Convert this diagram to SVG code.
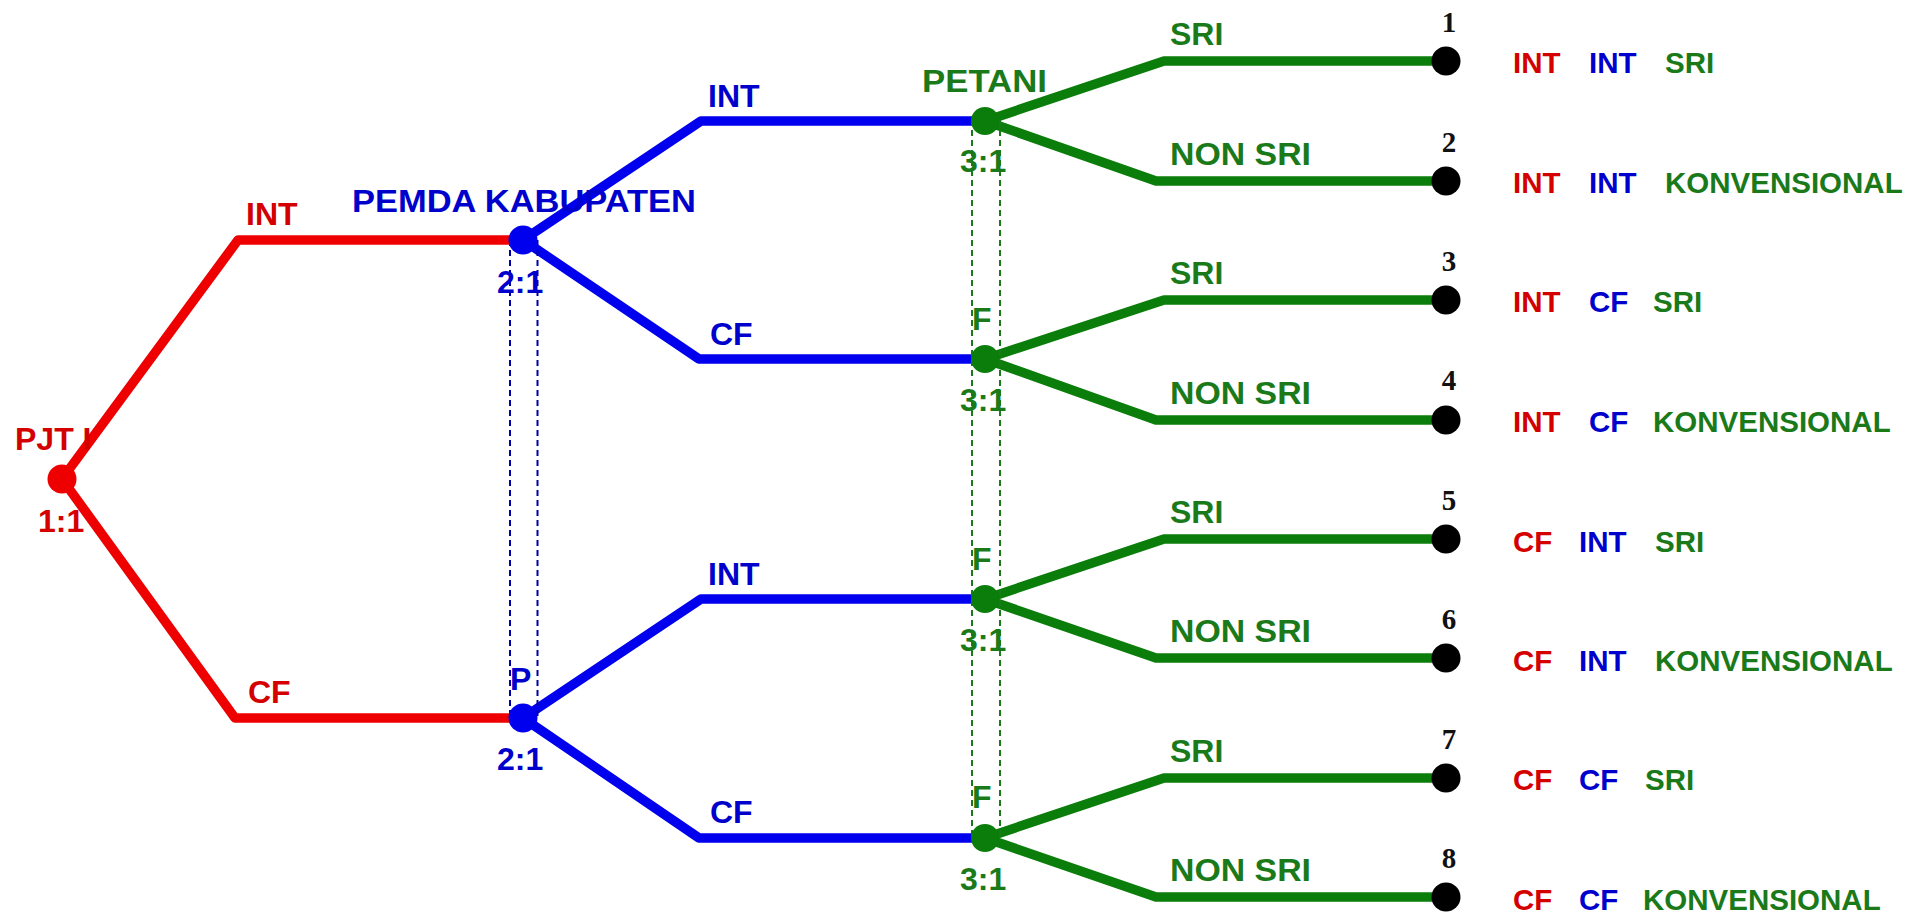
<svg xmlns="http://www.w3.org/2000/svg" width="1929" height="913" viewBox="0 0 1929 913">
<style>
text{font-family:"Liberation Sans",Arial,sans-serif;font-weight:bold;font-size:32px}
.r{fill:#d40000}.b{fill:#0000cc}.g{fill:#1a7a1a}
.lr{stroke:#ee0000}.lb{stroke:#0000ee}.lg{stroke:#0a7d0a}
.ln{fill:none;stroke-width:9.5;stroke-linejoin:round}
.dr{fill:none;stroke-width:2;stroke-dasharray:6 4}
.leg{font-size:29.5px}
.num{font-family:"Liberation Serif","Times New Roman",serif;font-weight:bold;font-size:29px;fill:#111;text-anchor:middle}
.nr{fill:#ee0000}.nb{fill:#0000ee}.ng{fill:#0a7d0a}.nk{fill:#000}
</style>
<rect width="1929" height="913" fill="#fff"/>
<g id="connectors">
  <path class="ln lr" d="M62 479 L238 240 L523 240 M62 479 L235 718 L523 718"/>
  <path class="ln lb" d="M523 240 L701 121 L985 121 M523 240 L699 359 L985 359 M523 718 L701 599 L985 599 M523 718 L699 838 L985 838"/>
  <path class="ln lg" d="M985 121 L1164 61 L1445 61 M985 121 L1156 181 L1445 181 M985 359 L1164 300 L1445 300 M985 359 L1156 420 L1445 420 M985 599 L1164 539 L1445 539 M985 599 L1156 658 L1445 658 M985 838 L1164 778 L1445 778 M985 838 L1156 897 L1445 897"/>
  <path class="dr" stroke="#0000aa" d="M510 240 V718 M537.5 240 V718"/>
  <path class="dr" stroke="#1a7a1a" d="M972 120 V838 M1000 120 V838"/>
</g>
<g id="node-pjt">
  <text class="r" x="15" y="450">PJT I</text>
  <text class="r" x="38" y="532">1:1</text>
  <circle class="nr" cx="62" cy="479" r="14.5"/>
</g>
<g id="edge-labels-red">
  <text class="r" x="246" y="225">INT</text>
  <text class="r" x="248" y="703">CF</text>
</g>
<g id="node-pemda-1">
  <text class="b" x="352" y="212" textLength="344" lengthAdjust="spacingAndGlyphs">PEMDA KABUPATEN</text>
  <text class="b" x="497" y="293">2:1</text>
  <circle class="nb" cx="523" cy="240" r="14.5"/>
</g>
<g id="node-pemda-2">
  <text class="b" x="510" y="690">P</text>
  <text class="b" x="497" y="770">2:1</text>
  <circle class="nb" cx="523" cy="718" r="14.5"/>
</g>
<g id="edge-labels-blue">
  <text class="b" x="708" y="107">INT</text>
  <text class="b" x="710" y="345">CF</text>
  <text class="b" x="708" y="585">INT</text>
  <text class="b" x="710" y="823">CF</text>
</g>
<g id="node-petani-1">
  <text class="g" x="922" y="92" textLength="125" lengthAdjust="spacingAndGlyphs">PETANI</text>
  <text class="g" x="960" y="172">3:1</text>
  <circle class="ng" cx="985" cy="121" r="14"/>
</g>
<g id="node-petani-2">
  <text class="g" x="972" y="330">F</text>
  <text class="g" x="960" y="411">3:1</text>
  <circle class="ng" cx="985" cy="359" r="14"/>
</g>
<g id="node-petani-3">
  <text class="g" x="972" y="570">F</text>
  <text class="g" x="960" y="651">3:1</text>
  <circle class="ng" cx="985" cy="599" r="14"/>
</g>
<g id="node-petani-4">
  <text class="g" x="972" y="808">F</text>
  <text class="g" x="960" y="890">3:1</text>
  <circle class="ng" cx="985" cy="838" r="14"/>
</g>
<g id="edge-labels-green">
  <text class="g" x="1170" y="45">SRI</text>
  <text class="g" x="1170" y="165" textLength="141" lengthAdjust="spacingAndGlyphs">NON SRI</text>
  <text class="g" x="1170" y="284">SRI</text>
  <text class="g" x="1170" y="404" textLength="141" lengthAdjust="spacingAndGlyphs">NON SRI</text>
  <text class="g" x="1170" y="523">SRI</text>
  <text class="g" x="1170" y="642" textLength="141" lengthAdjust="spacingAndGlyphs">NON SRI</text>
  <text class="g" x="1170" y="762">SRI</text>
  <text class="g" x="1170" y="881" textLength="141" lengthAdjust="spacingAndGlyphs">NON SRI</text>
</g>
<g id="outcome-1">
  <circle class="nk" cx="1446" cy="61" r="14.5"/>
  <text class="num" x="1449" y="32">1</text>
  <text class="leg r" x="1513" y="73">INT</text><text class="leg b" x="1589" y="73">INT</text><text class="leg g" x="1665" y="73">SRI</text>
</g>
<g id="outcome-2">
  <circle class="nk" cx="1446" cy="181" r="14.5"/>
  <text class="num" x="1449" y="152">2</text>
  <text class="leg r" x="1513" y="193">INT</text><text class="leg b" x="1589" y="193">INT</text><text class="leg g" x="1665" y="193">KONVENSIONAL</text>
</g>
<g id="outcome-3">
  <circle class="nk" cx="1446" cy="300" r="14.5"/>
  <text class="num" x="1449" y="271">3</text>
  <text class="leg r" x="1513" y="312">INT</text><text class="leg b" x="1589" y="312">CF</text><text class="leg g" x="1653" y="312">SRI</text>
</g>
<g id="outcome-4">
  <circle class="nk" cx="1446" cy="420" r="14.5"/>
  <text class="num" x="1449" y="390">4</text>
  <text class="leg r" x="1513" y="432">INT</text><text class="leg b" x="1589" y="432">CF</text><text class="leg g" x="1653" y="432">KONVENSIONAL</text>
</g>
<g id="outcome-5">
  <circle class="nk" cx="1446" cy="539" r="14.5"/>
  <text class="num" x="1449" y="510">5</text>
  <text class="leg r" x="1513" y="552">CF</text><text class="leg b" x="1579" y="552">INT</text><text class="leg g" x="1655" y="552">SRI</text>
</g>
<g id="outcome-6">
  <circle class="nk" cx="1446" cy="658" r="14.5"/>
  <text class="num" x="1449" y="629">6</text>
  <text class="leg r" x="1513" y="671">CF</text><text class="leg b" x="1579" y="671">INT</text><text class="leg g" x="1655" y="671">KONVENSIONAL</text>
</g>
<g id="outcome-7">
  <circle class="nk" cx="1446" cy="778" r="14.5"/>
  <text class="num" x="1449" y="749">7</text>
  <text class="leg r" x="1513" y="790">CF</text><text class="leg b" x="1579" y="790">CF</text><text class="leg g" x="1645" y="790">SRI</text>
</g>
<g id="outcome-8">
  <circle class="nk" cx="1446" cy="897" r="14.5"/>
  <text class="num" x="1449" y="868">8</text>
  <text class="leg r" x="1513" y="910">CF</text><text class="leg b" x="1579" y="910">CF</text><text class="leg g" x="1643" y="910">KONVENSIONAL</text>
</g>
</svg>
